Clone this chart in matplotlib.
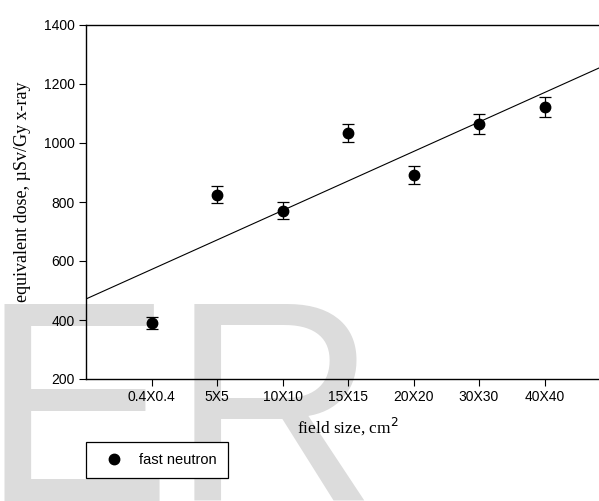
import numpy as np
import matplotlib
matplotlib.use("Agg")
import matplotlib.pyplot as plt
from matplotlib.lines import Line2D

categories = ["0.4X0.4", "5X5", "10X10", "15X15", "20X20", "30X30", "40X40"]
dose = [390, 824, 771, 1035, 891, 1064, 1123]
err = [20, 29, 28, 30, 30, 33, 34]
yticks = [200, 400, 600, 800, 1000, 1200, 1400]

fig = plt.figure(figsize=(5.99, 5.01), dpi=100)
fig.patch.set_facecolor("white")

# watermark
fig.text(-20/599, 0.0, "ER", fontsize=206, color="#dcdcdc",
         family="Liberation Sans", ha="left", va="baseline", zorder=-5)

ax = fig.add_axes([86/599, 1-379/501, 524/599, 354/501])
ax.set_facecolor("none")
x = np.arange(1, len(categories) + 1)

ax.errorbar(x, dose, yerr=err, fmt="o", color="black", ms=7.5,
            capsize=4.3, elinewidth=0.9, capthick=0.9, zorder=3)

coef = np.polyfit(x, dose, 1)
xl = np.array([0, 8])
ax.plot(xl, np.polyval(coef, xl), color="black", lw=0.8, zorder=2)

ax.set_xlim(0, 8)
ax.set_ylim(200, 1400)
ax.set_xticks(x)
ax.set_xticklabels(categories, family="Liberation Sans", fontsize=10)
ax.set_yticks(yticks)
ax.set_yticklabels([str(v) for v in yticks], family="Liberation Sans", fontsize=10)
ax.tick_params(direction="out", length=5, width=0.8, pad=3)
for s in ax.spines.values():
    s.set_linewidth(1.0)

ax.set_xlabel("field size, cm$^2$", family="Liberation Serif", fontsize=12.5, labelpad=8)
ax.set_ylabel("equivalent dose, µSv/Gy x-ray", family="Liberation Serif", fontsize=13, labelpad=6)
ax.yaxis.set_label_coords(-0.105, 0.53)

handle = Line2D([], [], marker="o", color="black", ls="none", ms=7.5)
leg = fig.legend([handle], ["fast neutron"], loc="upper left",
                 bbox_to_anchor=(86/599, 1-442/501), frameon=True, fancybox=False,
                 prop={"family": "Liberation Sans", "size": 10.5},
                 borderpad=0.75, handlelength=2.33, handletextpad=0.55,
                 borderaxespad=0)
leg.get_frame().set_edgecolor("black")
leg.get_frame().set_linewidth(0.9)
leg.get_frame().set_alpha(None)
leg.get_frame().set_facecolor("white")

fig.savefig("out.png", dpi=100)
